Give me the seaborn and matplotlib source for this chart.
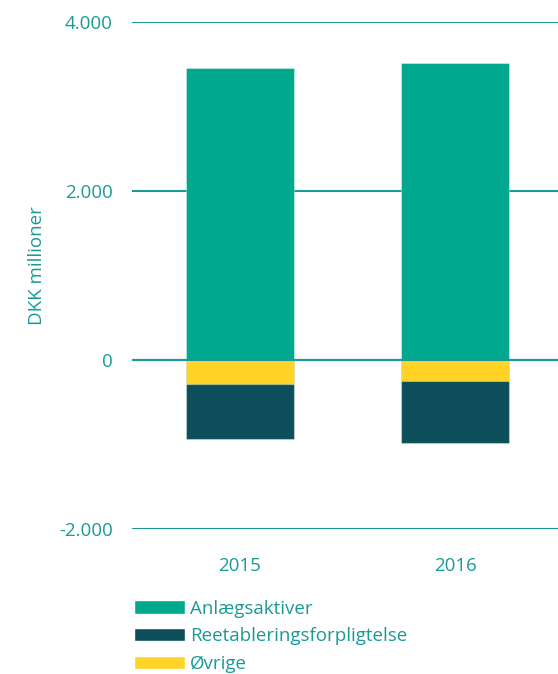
import matplotlib
matplotlib.use("Agg")
import matplotlib.pyplot as plt
from matplotlib.patches import Patch
import seaborn as sns
import pandas as pd

years = ["2015", "2016"]
anlaeg = [3450, 3520]
reetablering = [-650, -735]
oevrige = [-285, -245]
yticks = [-2000, 0, 2000, 4000]
ytick_labels = ["-2.000", "0", "2.000", "4.000"]

GREEN = "#00A88E"
DARK = "#0C4F5B"
YELLOW = "#FFD426"
TEAL = "#1A9A96"
FS = 13.5

sns.set_theme(style="white")
plt.rcParams["font.family"] = ["Open Sans", "DejaVu Sans"]

fig = plt.figure(figsize=(5.58, 6.74), dpi=100)
ax = fig.add_axes([132 / 558, 145 / 674, 431 / 558, 507 / 674])

df = pd.DataFrame({
    "year": years,
    "anlaeg": anlaeg,
    # the liabilities are stacked below zero: total first, the top slice over it
    "neg_total": [o + r for o, r in zip(oevrige, reetablering)],
    "oevrige": oevrige,
})

bar_kw = dict(width=0.5, edgecolor=(1, 1, 1, 0.35), linewidth=0.8, zorder=3)
sns.barplot(data=df, x="year", y="anlaeg", color=GREEN, saturation=1, ax=ax, **bar_kw)
sns.barplot(data=df, x="year", y="neg_total", color=DARK, saturation=1, ax=ax, **bar_kw)
sns.barplot(data=df, x="year", y="oevrige", color=YELLOW, saturation=1, ax=ax, **bar_kw)

ax.set_xlim(-0.5, 1.5)
ax.set_ylim(-2000, 4000)
ax.set_yticks(yticks)
ax.set_yticklabels(ytick_labels)
ax.yaxis.grid(True, color=TEAL, linewidth=1.5, zorder=0)
ax.set_axisbelow(True)
ax.axhline(0, color=TEAL, linewidth=1.5, zorder=4)
for s in ax.spines.values():
    s.set_visible(False)
ax.tick_params(axis="y", length=0, pad=14, labelsize=FS, labelcolor=TEAL)
ax.tick_params(axis="x", length=0, pad=20, labelsize=FS, labelcolor=TEAL)
ax.set_xlabel("")
ax.set_ylabel("DKK millioner", color=TEAL, fontsize=FS)
ax.yaxis.set_label_coords(-0.20, 0.52)

handles = [Patch(facecolor=GREEN), Patch(facecolor=DARK), Patch(facecolor=YELLOW)]
labels = ["Anlægsaktiver", "Reetableringsforpligtelse", "Øvrige"]
leg = fig.legend(handles, labels, loc="upper left", bbox_to_anchor=(126.5 / 558, 1 - 592 / 674),
                 borderaxespad=0, frameon=False, fontsize=FS, handlelength=2.7,
                 handleheight=0.7, handletextpad=0.3, labelspacing=0.51, labelcolor=TEAL)

fig.savefig("out.png", dpi=100)
